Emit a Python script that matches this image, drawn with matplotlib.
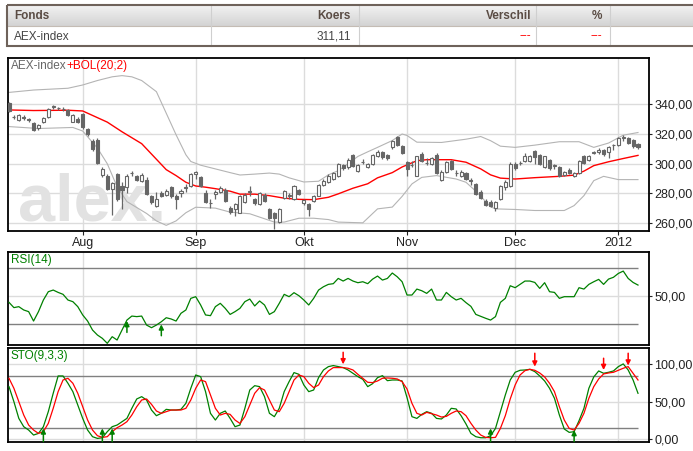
import numpy as np
import matplotlib
matplotlib.use('Agg')
import matplotlib.pyplot as plt
from matplotlib.patches import Rectangle

plt.rcParams['font.family'] = ['Liberation Sans', 'DejaVu Sans']

# ---- data (trading days, index 0 = 11 Jul 2011) ----
opens = [340.7, 331.6, 329.5, 331.2, 329.8, 327.3, 323.9, 328.2, 331.7, 338.3,
         337.4, 336.8, 336.2, 328.4, 330.0, 333.3, 323.2, 315.4, 316.1, 292.4,
         292.0, 283.0, 293.1, 284.8, 284.1, 293.6, 291.5, 288.4, 289.0, 278.5,
         271.8, 280.1, 279.0, 284.1, 278.5, 280.6, 283.8, 285.3, 293.0, 290.8,
         280.3, 273.8, 279.4, 281.2, 282.6, 270.1, 269.6, 267.0, 274.5, 281.0,
         276.3, 272.9, 279.0, 269.6, 266.9, 260.7, 276.8, 278.3, 276.3, 282.3,
         273.6, 273.0, 275.2, 278.5, 285.7, 287.9, 289.7, 292.0, 299.1, 297.5,
         305.8, 295.3, 301.2, 297.5, 299.8, 305.4, 307.6, 305.8, 311.0, 317.7,
         311.6, 300.9, 299.0, 292.0, 306.5, 300.3, 299.8, 305.8, 289.0, 294.6,
         302.0, 293.8, 291.5, 293.7, 288.7, 286.4, 281.2, 275.2, 274.5, 270.1,
         276.3, 284.6, 285.3, 299.8, 300.3, 302.0, 302.0, 308.7, 305.8, 297.5,
         302.7, 298.6, 297.5, 292.4, 296.0, 292.0, 293.7, 304.9, 302.7, 307.5,
         307.6, 309.4, 307.6, 312.4, 312.5, 317.6, 317.0, 316.1, 313.2]
highs = [341.5, 333.1, 333.5, 332.5, 331.0, 328.0, 326.5, 331.2, 337.5, 339.8,
         338.5, 338.0, 337.0, 333.5, 331.5, 334.0, 324.0, 316.5, 317.0, 297.5,
         293.0, 288.0, 294.0, 287.5, 293.0, 295.3, 292.5, 294.0, 291.0, 279.2,
         281.0, 281.5, 282.8, 285.2, 279.5, 283.0, 286.5, 293.8, 295.3, 291.5,
         282.0, 276.5, 282.0, 285.0, 283.5, 271.8, 273.5, 279.0, 280.5, 284.8,
         277.0, 280.8, 280.0, 270.5, 267.5, 270.3, 282.5, 280.0, 285.5, 283.0,
         276.5, 273.8, 278.8, 286.5, 289.5, 293.0, 294.5, 300.5, 300.0, 304.0,
         306.5, 299.8, 303.0, 300.5, 306.5, 309.5, 308.3, 306.5, 316.0, 318.5,
         312.3, 301.8, 302.0, 305.5, 308.0, 304.0, 304.5, 307.5, 295.5, 302.0,
         302.8, 296.0, 295.5, 294.5, 290.5, 287.2, 282.0, 276.0, 275.5, 275.2,
         286.0, 288.8, 301.0, 301.0, 302.0, 307.0, 305.8, 309.5, 306.5, 305.5,
         303.5, 300.0, 298.2, 295.3, 296.8, 294.5, 302.5, 305.8, 306.0, 308.3,
         310.5, 310.2, 311.8, 313.5, 317.8, 319.5, 318.0, 316.8, 314.0]
lows = [334.5, 330.0, 329.0, 329.5, 328.0, 321.8, 323.0, 327.5, 331.0, 337.0,
        336.0, 335.5, 332.0, 327.8, 327.5, 323.5, 318.5, 308.8, 299.5, 291.0,
        282.0, 265.6, 275.0, 269.2, 280.0, 291.5, 288.5, 287.8, 278.8, 273.0,
        271.0, 277.5, 278.0, 277.0, 269.6, 277.5, 281.0, 284.0, 289.7, 284.5,
        273.5, 270.0, 276.3, 280.5, 274.5, 266.0, 264.5, 266.5, 273.5, 278.5,
        272.5, 272.0, 274.5, 262.5, 255.8, 260.0, 276.0, 276.5, 275.5, 279.0,
        272.5, 265.0, 274.5, 278.0, 285.0, 287.0, 289.0, 291.0, 296.0, 296.5,
        298.0, 294.5, 299.5, 296.8, 299.0, 304.5, 303.0, 302.8, 310.0, 311.8,
        306.5, 292.0, 297.5, 291.5, 301.0, 299.0, 299.0, 293.0, 288.3, 293.8,
        295.5, 291.5, 290.8, 288.8, 285.5, 279.0, 276.0, 271.5, 271.0, 268.0,
        275.5, 282.0, 284.5, 296.0, 299.0, 301.0, 301.2, 300.0, 299.0, 296.8,
        296.0, 296.5, 290.8, 291.5, 293.0, 290.8, 293.0, 299.8, 302.0, 306.5,
        306.8, 305.0, 304.0, 309.5, 311.8, 315.0, 313.0, 310.8, 309.8]
closes = [335.5, 331.4, 332.6, 331.0, 329.6, 322.8, 326.1, 330.8, 337.1, 338.5,
          337.2, 336.6, 333.1, 332.6, 328.2, 324.4, 319.7, 309.8, 300.4, 296.4,
          283.0, 287.0, 276.3, 282.6, 292.0, 293.8, 289.3, 292.4, 279.7, 274.1,
          276.3, 278.1, 281.9, 278.1, 276.3, 281.4, 284.2, 293.1, 294.2, 285.3,
          274.1, 273.5, 281.2, 283.5, 275.2, 267.8, 272.9, 278.5, 279.0, 281.4,
          273.6, 280.1, 275.2, 263.3, 263.3, 269.6, 281.9, 278.6, 284.8, 279.7,
          275.9, 269.2, 278.1, 285.7, 288.6, 292.0, 293.7, 299.8, 296.9, 302.7,
          298.7, 299.1, 301.4, 299.8, 305.8, 308.0, 304.2, 303.6, 315.4, 312.5,
          307.2, 296.4, 299.2, 304.9, 302.0, 300.5, 303.6, 293.7, 294.6, 301.3,
          296.4, 293.6, 294.6, 289.7, 288.5, 279.7, 276.8, 272.5, 271.8, 274.5,
          285.3, 288.0, 299.8, 296.9, 300.5, 305.4, 304.9, 304.2, 299.8, 304.9,
          296.9, 298.8, 291.5, 294.6, 293.7, 293.7, 302.0, 300.4, 305.4, 307.7,
          309.4, 306.5, 311.0, 312.6, 317.0, 317.8, 313.9, 311.6, 311.1]

bol_mid_idx = [0, 5, 12, 15, 18, 20, 23, 27, 30, 32, 34, 36, 38, 40, 42, 45, 47, 50,
               53, 56, 59, 62, 65, 67, 70, 73, 75, 78, 80, 83, 85, 88, 90, 93, 96, 98,
               100, 103, 107, 112, 115, 117, 119, 122, 125, 128]
bol_mid = [336.2, 335.8, 336.0, 335.5, 331.0, 328.0, 321.5, 313.5, 303.0, 296.0,
           292.0, 287.5, 285.0, 284.2, 283.2, 281.5, 279.5, 279.5, 278.5, 276.8,
           276.0, 275.8, 277.4, 279.7, 283.5, 286.5, 290.5, 294.0, 297.8, 302.0,
           302.7, 302.7, 302.7, 301.0, 296.5, 292.5, 290.3, 289.7, 290.6, 291.5,
           292.3, 295.0, 298.7, 301.3, 303.5, 305.6]
bol_up_idx = [0, 5, 12, 15, 18, 21, 23, 25, 27, 30, 32, 34, 36, 37, 39, 42, 45, 47,
              50, 53, 55, 57, 60, 63, 65, 67, 69, 71, 73, 75, 78, 80, 81, 83, 88, 93,
              96, 98, 100, 103, 107, 112, 116, 119, 122, 125, 128]
bol_up = [348.0, 349.6, 350.8, 353.0, 356.0, 358.5, 359.3, 358.5, 356.0, 348.5,
          334.0, 319.5, 306.0, 301.5, 299.0, 296.5, 294.0, 292.4, 293.0, 293.7,
          293.0, 290.5, 287.7, 288.2, 292.5, 295.3, 300.0, 304.9, 308.0, 311.0,
          315.6, 320.0, 319.0, 314.5, 314.3, 316.5, 318.3, 315.5, 311.8, 311.0,
          312.5, 314.8, 314.8, 311.0, 313.9, 319.2, 321.0]
bol_lo_idx = [0, 6, 13, 15, 18, 20, 22, 24, 28, 30, 32, 34, 36, 38, 42, 45, 49, 54,
              56, 59, 62, 65, 67, 72, 75, 78, 80, 82, 84, 87, 91, 93, 95, 98, 99,
              103, 107, 113, 115, 117, 119, 121, 124, 128]
bol_lo = [325.0, 323.7, 324.4, 322.0, 310.5, 300.0, 284.5, 274.5, 266.5, 261.5,
          258.5, 261.5, 267.0, 270.7, 270.1, 267.4, 266.3, 260.7, 260.7, 263.3,
          263.3, 262.4, 260.7, 260.2, 269.6, 270.8, 278.0, 286.4, 290.8, 292.0,
          289.7, 287.5, 281.5, 271.0, 269.6, 269.2, 268.5, 268.5, 271.8, 278.5,
          288.6, 291.5, 289.3, 289.3]

rsi = [45.4, 41.6, 42.3, 39.9, 38.7, 31.9, 38.7, 47.1, 53.1, 54.3,
       52.6, 51.2, 47.1, 45.9, 42.3, 36.3, 31.9, 25.4, 21.8, 19.4,
       15.8, 20.6, 18.2, 25.4, 32.6, 35.5, 35.1, 35.5, 29.0, 27.1,
       29.0, 31.4, 34.3, 33.4, 31.9, 37.5, 39.9, 48.3, 49.5, 43.5,
       36.3, 35.8, 42.3, 44.7, 41.1, 36.7, 38.7, 41.1, 45.9, 47.8,
       42.8, 46.4, 43.5, 36.7, 38.7, 44.7, 51.2, 49.5, 52.4, 50.2,
       47.1, 43.5, 48.3, 54.3, 56.7, 58.4, 58.9, 62.7, 60.8, 62.7,
       60.8, 59.6, 60.3, 58.9, 62.2, 64.4, 61.5, 62.7, 66.6, 63.9,
       60.3, 50.7, 50.7, 55.0, 53.8, 51.9, 55.0, 47.1, 47.1, 52.6,
       49.5, 47.1, 48.3, 45.2, 42.5, 36.7, 35.3, 33.9, 32.6, 35.1,
       45.4, 48.3, 57.4, 56.0, 58.4, 60.8, 60.8, 59.8, 55.5, 59.6,
       53.1, 52.6, 48.3, 49.5, 49.5, 49.5, 56.0, 55.0, 58.4, 60.3,
       62.0, 58.4, 62.2, 63.5, 66.3, 68.0, 62.7, 59.8, 57.9]

sto_k = [70.1, 50.0, 27.6, 16.5, 12.0, 5.3, 7.5, 16.5, 36.6, 61.2,
         84.4, 84.4, 74.6, 63.4, 45.5, 27.6, 12.0, 3.1, 0.8, 1.7,
         9.8, 16.5, 18.7, 23.2, 27.6, 41.1, 53.6, 56.7, 52.2, 38.8,
         31.2, 34.4, 39.7, 38.8, 38.8, 39.7, 47.8, 67.9, 85.7, 83.5,
         63.4, 34.4, 25.4, 34.4, 37.5, 27.6, 16.5, 18.7, 41.1, 65.6,
         71.4, 70.1, 56.7, 34.4, 29.9, 41.1, 63.4, 76.8, 88.9, 86.6,
         72.3, 63.4, 65.6, 82.2, 92.4, 96.9, 98.3, 96.9, 95.6, 92.4,
         88.0, 83.5, 79.9, 70.1, 74.1, 82.2, 84.8, 78.1, 79.0, 79.0,
         77.7, 55.4, 29.9, 27.6, 33.0, 36.6, 34.4, 27.6, 26.8, 32.1,
         41.1, 40.2, 31.2, 20.1, 7.5, 3.1, 1.7, 1.7, 4.4, 14.2,
         36.6, 58.9, 79.0, 89.3, 92.0, 92.4, 93.3, 90.2, 84.4, 77.7,
         67.9, 54.5, 32.1, 13.4, 8.9, 9.8, 24.5, 41.1, 67.9, 83.1,
         91.1, 88.0, 89.3, 91.1, 96.9, 100.5, 92.4, 79.0, 61.2]
sto_d = [81.3, 67.9, 50.0, 32.1, 18.7, 12.0, 7.5, 9.8, 20.9, 41.1,
         63.4, 79.0, 81.3, 74.6, 61.2, 43.3, 25.4, 12.0, 4.4, 2.2,
         3.1, 9.8, 15.1, 18.7, 23.2, 32.1, 43.3, 52.2, 53.6, 46.4,
         37.5, 34.4, 36.6, 38.8, 38.8, 38.8, 41.1, 52.2, 67.9, 79.0,
         76.8, 58.9, 41.1, 32.1, 34.4, 33.0, 25.4, 20.9, 29.9, 45.5,
         61.2, 68.8, 65.6, 52.2, 38.8, 36.6, 47.8, 63.4, 79.0, 85.7,
         83.5, 74.6, 68.8, 72.3, 83.5, 91.1, 95.6, 95.6, 95.6, 94.7,
         92.4, 86.6, 81.3, 75.9, 75.5, 77.7, 81.3, 81.7, 81.3, 80.4,
         76.8, 67.0, 47.8, 34.4, 32.1, 35.7, 33.9, 32.1, 29.4, 30.3,
         34.4, 37.5, 36.6, 31.2, 21.0, 12.0, 5.3, 2.2, 1.7, 2.2,
         14.2, 31.2, 53.6, 72.3, 85.7, 91.5, 93.3, 92.0, 88.4, 83.1,
         74.6, 63.4, 43.3, 25.4, 14.2, 12.0, 21.0, 34.4, 54.5, 70.1,
         80.4, 87.1, 88.4, 89.3, 92.0, 94.7, 96.9, 88.0, 79.0]

rsi_buy_idx = [24, 31]
rsi_buy_tip = [31.9, 29.5]
rsi_buy_tail = [23.7, 21.3]
sto_buy_idx = [7, 19, 21, 98, 115]
sto_buy_tip = [14.2, 14.2, 14.2, 14.2, 12.0]
sto_sell_idx = [68, 107, 121, 126]
sto_sell_tip = [100.0, 96.9, 92.4, 98.3]
sto_sell_tail = [116.1, 114.8, 108.1, 114.8]

month_idx = [15, 38, 60, 81, 103, 124]
month_labels = ['Aug', 'Sep', 'Okt', 'Nov', 'Dec', '2012']

table_cols = ['Fonds', 'Koers', 'Verschil', '%']
table_row = ['AEX-index', '311,11', '---', '---']

# ---- figure ----
W, H = 693, 451
fig = plt.figure(figsize=(W / 100, H / 100), dpi=100)
fig.patch.set_facecolor('white')


def px_axes(left, top, right, bottom):
    return fig.add_axes([left / W, 1 - bottom / H, (right - left) / W, (bottom - top) / H])


# table on top
tab = fig.add_axes([0, 0, 1, 1])
tab.axis('off')
grad = np.linspace(0, 1, 30)[:, None]
c_top = np.array([0.95, 0.95, 0.95])
c_bot = np.array([0.83, 0.83, 0.83])
img = (c_top[None, None, :] * (1 - grad[..., None]) + c_bot[None, None, :] * grad[..., None])
tab.imshow(img, extent=[7, 700, 26, 5], aspect='auto', interpolation='bilinear', zorder=1)
tab.set_xlim(0, W)
tab.set_ylim(H, 0)
border = '#6e625a'
tab.add_patch(Rectangle((7, 5), 700, 41, fill=False, edgecolor=border, lw=1.5, zorder=3))
tab.plot([7, 700], [26, 26], color='#c4bcb4', lw=0.8, zorder=2)
col_x = [211, 359, 536, 609.5]
for cx in col_x:
    tab.plot([cx, cx], [5, 46], color='#cfcfcf', lw=0.8, zorder=2)
head_x = [14, 351, 531, 602]
head_ha = ['left', 'right', 'right', 'right']
for k in range(4):
    tab.text(head_x[k], 16, table_cols[k], ha=head_ha[k], va='center', fontsize=8.5,
             fontweight='bold', color='#5a4c44', zorder=4)
    tab.text(head_x[k], 36.5, table_row[k], ha=head_ha[k], va='center', fontsize=8.5,
             color='red' if k >= 2 else '#444444', zorder=4)

xlim = (-0.2, 130.3)
grid_c = '#dcdcdc'
thr_c = '#808080'
n = len(closes)
idx = np.arange(n)


def style_axes(ax):
    ax.set_xlim(*xlim)
    for s in ax.spines.values():
        s.set_color('black')
        s.set_linewidth(1.3)
    ax.yaxis.tick_right()
    ax.tick_params(axis='y', length=2, pad=1.5, labelsize=9, colors='#222222')
    for m in month_idx:
        ax.axvline(m, color=grid_c, lw=1.0, zorder=0)


# ---- main candle panel ----
ax = px_axes(8, 57.5, 649.3, 231)
style_axes(ax)
ax.set_ylim(254.7, 371.5)
yt = [260, 280, 300, 320, 340]
ax.set_yticks(yt)
ax.set_yticklabels(['%d,00' % v for v in yt])
for v in yt:
    ax.axhline(v, color=grid_c, lw=1.0, zorder=0)
ax.set_xticks(month_idx)
ax.set_xticklabels(month_labels)
ax.tick_params(axis='x', length=3, pad=1.5, labelsize=9, colors='#222222')
ax.text(0.0156, 0.063, 'alex.', transform=ax.transAxes, fontsize=48, fontweight='bold',
        color='#e2e2e2', ha='left', va='baseline', zorder=0.5)

ax.plot(bol_up_idx, bol_up, color='#b4b4b4', lw=0.8, zorder=2)
ax.plot(bol_lo_idx, bol_lo, color='#b4b4b4', lw=0.8, zorder=2)
ax.plot(bol_mid_idx, bol_mid, color='#ff0000', lw=1.0, zorder=3)

cd = '#666666'
for i in range(n):
    o, h, l, c = opens[i], highs[i], lows[i], closes[i]
    ax.vlines(i, l, h, color=cd, lw=0.9, zorder=4)
    lo_b, hi_b = min(o, c), max(o, c)
    hgt = max(hi_b - lo_b, 0.25)
    face = 'white' if c >= o else cd
    ax.bar(i, hgt, bottom=lo_b, width=0.62, color=face, edgecolor=cd, lw=0.8, zorder=5)

ax.text(0.004, 0.985, 'AEX-index', transform=ax.transAxes, fontsize=8.5, color='#666666',
        ha='left', va='top')
ax.annotate('+BOL(20;2)', xy=(0.004, 0.985), xycoords='axes fraction', xytext=(40.3, 0),
            textcoords='offset points', fontsize=8.5, color='#ff0000', ha='left', va='top')

# ---- RSI panel ----
ar = px_axes(8, 251.7, 649.3, 345)
style_axes(ar)
ar.set_ylim(14.6, 82.0)
ar.set_yticks([50])
ar.set_yticklabels(['50,00'])
ar.set_xticks([])
ar.axhline(50, color=grid_c, lw=1.0, zorder=0)
ar.hlines([70, 30], xlim[0], n - 1, color=thr_c, lw=1.0, zorder=1)
ar.plot(idx, rsi, color='#008000', lw=0.9, zorder=3)
for k in range(len(rsi_buy_idx)):
    ar.annotate('', xy=(rsi_buy_idx[k], rsi_buy_tip[k]), xytext=(rsi_buy_idx[k], rsi_buy_tail[k]),
                arrowprops=dict(arrowstyle='-|>', color='#008000', lw=1.1, mutation_scale=7,
                                shrinkA=0, shrinkB=0), zorder=4)
ar.text(0.004, 0.97, 'RSI(14)', transform=ar.transAxes, fontsize=8.5, color='#008000',
        ha='left', va='top')

# ---- STO panel ----
ast = px_axes(8, 347.5, 649.3, 441.7)
style_axes(ast)
ast.set_ylim(-3.6, 122.5)
st = [0, 50, 100]
ast.set_yticks(st)
ast.set_yticklabels(['%d,00' % v for v in st])
ast.set_xticks([])
for v in st:
    ast.axhline(v, color=grid_c, lw=1.0, zorder=0)
ast.hlines([85, 15], xlim[0], n - 1, color=thr_c, lw=1.0, zorder=1)
ast.plot(idx, sto_k, color='#008000', lw=0.9, zorder=3)
ast.plot(idx, sto_d, color='#ff0000', lw=0.9, zorder=3)
for k in range(len(sto_buy_idx)):
    ast.annotate('', xy=(sto_buy_idx[k], sto_buy_tip[k]), xytext=(sto_buy_idx[k], -3.6),
                 arrowprops=dict(arrowstyle='-|>', color='#008000', lw=1.1, mutation_scale=7,
                                 shrinkA=0, shrinkB=0), zorder=4)
for k in range(len(sto_sell_idx)):
    ast.annotate('', xy=(sto_sell_idx[k], sto_sell_tip[k]), xytext=(sto_sell_idx[k], sto_sell_tail[k]),
                 arrowprops=dict(arrowstyle='-|>', color='#ff0000', lw=1.1, mutation_scale=7,
                                 shrinkA=0, shrinkB=0), zorder=4)
ast.text(0.004, 0.97, 'STO(9,3,3)', transform=ast.transAxes, fontsize=8.5, color='#008000',
         ha='left', va='top')

fig.savefig('out.png', dpi=100)
